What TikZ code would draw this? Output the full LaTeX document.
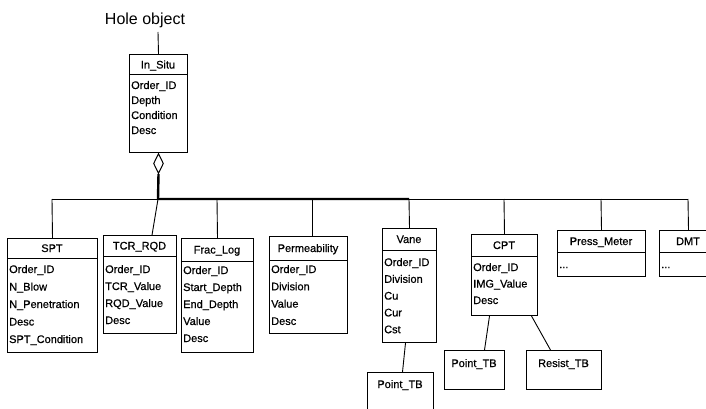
\documentclass[tikz,border=0pt]{standalone}
\usepackage{fontspec}
\setmainfont{Liberation Sans}
\newfontfamily\umlfont[FakeBold=0.6]{Liberation Sans}
\usetikzlibrary{shapes.geometric,calc}
\tikzset{
  cls/.style={draw, line width=1pt, rectangle, inner sep=0pt, anchor=north west},
  ttl/.style={font=\umlfont\fontsize{11}{13}\selectfont, inner sep=0pt, anchor=base},
  attr/.style={font=\umlfont\fontsize{11}{13}\selectfont, inner sep=0pt, anchor=base west},
  conn/.style={line width=0.9pt},
  boldconn/.style={line width=2.4pt},
  aggr/.style={diamond, draw, line width=1pt, fill=white, aspect=0.5, minimum width=10pt, minimum height=20pt, inner sep=0pt, anchor=north},
}
% name, x1, x2, ytop, ydiv, ybot, title
\newcommand\umlclass[7]{%
  \pgfmathsetmacro\uw{#3-#2}\pgfmathsetmacro\uh{#6-#4}%
  \node[cls, minimum width=\uw pt, minimum height=\uh pt] (#1) at (#2,#4) {};
  \draw[line width=1pt] (#2,#5) -- (#3,#5);
  \pgfmathsetmacro\ux{(#2+#3)/2}\pgfmathsetmacro\uy{(#4+#5)/2+4}%
  \node[ttl] (#1-t) at (\ux,\uy) {#7};
}
% name, x1, x2, ytop, ybot, title baseline, title
\newcommand\umlsimple[7]{%
  \pgfmathsetmacro\uw{#3-#2}\pgfmathsetmacro\uh{#5-#4}%
  \node[cls, minimum width=\uw pt, minimum height=\uh pt] (#1) at (#2,#4) {};
  \pgfmathsetmacro\ux{(#2+#3)/2}%
  \node[ttl] (#1-t) at (\ux,#6) {#7};
}
% name, x, first baseline, spacing, list
\newcommand\umlattrs[5]{%
  \foreach \attrtxt [count=\i] in {#5} {
    \pgfmathsetmacro\yy{#3+(\i-1)*#4}
    \node[attr] (#1-a\i) at (#2,\yy) {\attrtxt};
  }
}
\begin{document}
\begin{tikzpicture}[x=1pt, y=-1pt]
\useasboundingbox (0,0) rectangle (706,409);
\clip (0,0) rectangle (706,409);

% Hole object
\node[font=\fontsize{16}{18}\selectfont, inner sep=0pt, anchor=base] (hole) at (145,25) {Hole object};
\coordinate (holeEnd) at (158,32);

% In_Situ
\umlclass{insitu}{129}{187}{54}{75}{152}{In\_Situ}
\umlattrs{insitu}{131}{89}{15}{Order\_ID, Depth, Condition, Desc}
\draw[conn] (holeEnd) -- (insitu.north);
\node[aggr] (agg) at (insitu.south) {};

% classes
\umlclass{spt}{7}{97}{238}{258}{352}{SPT}
\umlattrs{spt}{9}{273}{17.5}{Order\_ID, N\_Blow, N\_Penetration, Desc, SPT\_Condition}

\umlclass{tcr}{103}{176}{235}{256}{333}{TCR\_RQD}
\umlattrs{tcr}{105}{273}{17}{Order\_ID, TCR\_Value, RQD\_Value, Desc}

\umlclass{frac}{181}{253}{238}{261}{352}{Frac\_Log}
\umlattrs{frac}{183}{274}{17}{Order\_ID, Start\_Depth, End\_Depth, Value, Desc}

\umlclass{perm}{269}{347}{236}{260}{333}{Permeability}
\umlattrs{perm}{271}{273}{17.3}{Order\_ID, Division, Value, Desc}

\umlclass{vane}{382}{436}{228}{250}{342}{Vane}
\umlattrs{vane}{384}{266}{16.8}{Order\_ID, Division, Cu, Cur, Cst}

\umlclass{cpt}{471}{537}{234}{256}{315}{CPT}
\umlattrs{cpt}{473}{271}{16.5}{Order\_ID, IMG\_Value, Desc}

\umlclass{press}{557}{645}{230}{252}{276}{Press\_Meter}
\node[attr] (press-a1) at (559,268) {...};

\umlclass{dmt}{659}{717}{230}{252}{276}{DMT}
\node[attr] (dmt-a1) at (661,268) {...};

\umlsimple{ptbA}{367}{433}{372}{425}{388}{Point\_TB}
\umlsimple{ptbB}{444}{504}{350}{389}{367}{Point\_TB}
\umlsimple{resist}{526}{601}{350}{389}{367}{Resist\_TB}

% bus
\coordinate (b52) at (52,199);
\coordinate (b158) at (158,199);
\coordinate (b217) at (217,199);
\coordinate (b312) at (312,199);
\coordinate (b409) at (409,199);
\coordinate (b504) at (504,199);
\coordinate (b601) at (601,199);
\coordinate (b688) at (688,199);

\draw[conn] (b52) -- (b688);
\draw[boldconn] (agg.south) -- (b158) -- (b409);

\draw[conn] (b52) -- (spt.north);
\draw[conn] (b158) -- ($(tcr.north west)+(49,0)$);
\draw[conn] (b217) -- (frac.north);
\draw[conn] (b312) -- (perm.north -| b312);
\draw[conn] (b409) -- (vane.north);
\draw[conn] (b504) -- (cpt.north);
\draw[conn] (b601) -- (press.north);
\draw[conn] (b688) -- (dmt.north);

\draw[conn] ($(vane.south)+(-4,0)$) -- ($(ptbA.north)+(2,0)$);
\draw[conn] ($(cpt.south)+(-15,0)$) -- ($(ptbB.north)+(10,0)$);
\draw[conn] ($(cpt.south)+(27,0)$) -- ($(resist.north)+(-13.5,0)$);
\end{tikzpicture}
\end{document}
